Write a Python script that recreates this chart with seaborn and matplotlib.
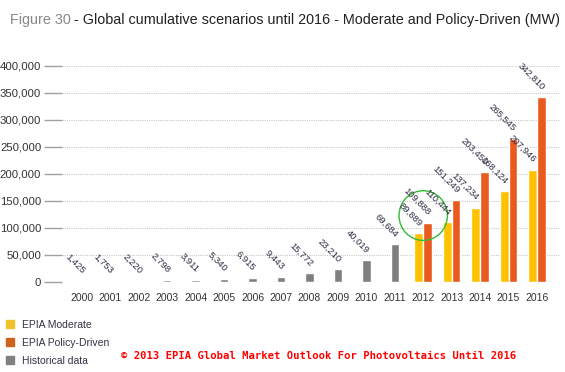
import numpy as np
import pandas as pd
import matplotlib.pyplot as plt
import seaborn as sns
from matplotlib.patches import Patch, Ellipse

years = [str(y) for y in range(2000, 2017)]
hist_years = [str(y) for y in range(2000, 2012)]
hist_mw = [1425, 1753, 2220, 2798, 3911, 5340, 6915, 9443, 15772, 23210, 40019, 69684]
fc_years = ["2012", "2013", "2014", "2015", "2016"]
moderate_mw = [89889, 110444, 137234, 168124, 207946]
policy_mw = [109888, 151249, 203450, 265545, 342810]
yticks = [0, 50000, 100000, 150000, 200000, 250000, 300000, 350000, 400000]

fc = pd.DataFrame({
    "year": fc_years * 2,
    "mw": moderate_mw + policy_mw,
    "scenario": ["EPIA Moderate"] * 5 + ["EPIA Policy-Driven"] * 5,
})

sns.set_style("white")
plt.rcParams["font.family"] = ["Liberation Sans", "DejaVu Sans"]

fig = plt.figure(figsize=(5.65, 3.72), dpi=100)
ax = fig.add_axes([0.1097, 0.242, 0.881, 0.5806])

sns.barplot(x=hist_years, y=hist_mw, order=years, color="#7f7f7f",
            width=0.3, errorbar=None, saturation=1, ax=ax)
sns.barplot(data=fc, x="year", y="mw", hue="scenario", order=years,
            palette=["#ffc200", "#e85a1e"], width=0.62, errorbar=None,
            saturation=1, ax=ax)

for cont in ax.containers:
    for bar in cont:
        h = bar.get_height()
        if np.isnan(h) or h == 0:
            continue
        ax.annotate(f"{int(h):,}", (bar.get_x() + bar.get_width() / 2, h),
                    xytext=(-1, 4), textcoords="offset points",
                    rotation=-45, rotation_mode="anchor", ha="right", va="bottom",
                    fontsize=6.8, color="#2d2d44")

ax.set_ylim(0, 400000)
ax.set_xlim(-0.7, 16.8)
ax.set_yticks(yticks)
ax.set_yticklabels([f"{v:,}" for v in yticks])
ax.set_xlabel("")
ax.set_ylabel("")
ax.tick_params(axis="y", length=13, width=1, color="#a0a0a0", pad=2,
               labelsize=8.2, labelcolor="#333333", left=True)
ax.tick_params(axis="x", length=0, pad=8, labelsize=7.5, labelcolor="#333333")
ax.grid(axis="y", color="#c8c8c8", linestyle=(0, (1, 1)), linewidth=0.8)
ax.set_axisbelow(True)
for s in ax.spines.values():
    s.set_visible(False)
ax.get_legend().remove()

# green highlight around the 2012 labels
ax.add_patch(Ellipse((12, 123000), 1.7, 92000, fill=False,
                     edgecolor="#33bb33", linewidth=1, clip_on=False))

# two-colour title
t1 = fig.text(0.018, 0.935, "Figure 30", fontsize=10.4, color="#888888")
fig.canvas.draw()
bb = t1.get_window_extent().transformed(fig.transFigure.inverted())
fig.text(bb.x1 + 0.006, 0.935,
         "- Global cumulative scenarios until 2016 - Moderate and Policy-Driven (MW)",
         fontsize=10.4, color="#222222")

handles = [Patch(color="#f0c22c"), Patch(color="#d0621f"), Patch(color="#808080")]
labels = ["EPIA Moderate", "EPIA Policy-Driven", "Historical data"]
fig.legend(handles, labels, loc="upper left", bbox_to_anchor=(-0.006, 0.165),
           frameon=False, fontsize=7.5, handlelength=0.8, handleheight=0.8,
           labelspacing=0.75, handletextpad=0.7, labelcolor="#333344")

fig.text(0.215, 0.036, "© 2013 EPIA Global Market Outlook For Photovoltaics Until 2016",
         fontsize=7.55, color="#ff0000", fontweight="bold", family="DejaVu Sans Mono")

fig.savefig("out.png", dpi=100)
